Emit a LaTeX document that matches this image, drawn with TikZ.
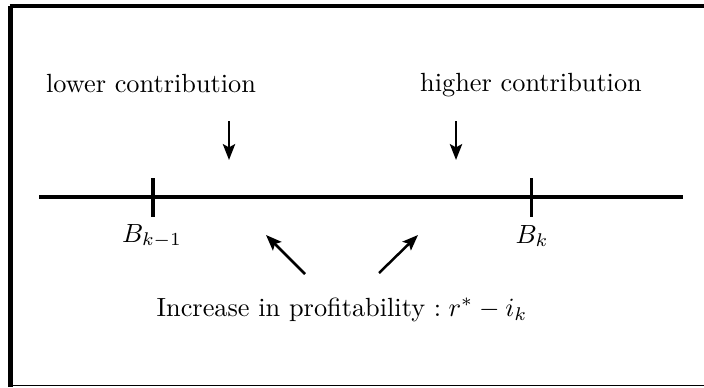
\documentclass[tikz,border=0pt]{standalone}
\usetikzlibrary{arrows.meta}
\begin{document}
\begin{tikzpicture}[x=0.3802pt,y=-0.3802pt,
  lbl/.style={inner sep=0pt,anchor=base},
  axis/.style={line width=1.15pt},
  tick/.style={line width=1.15pt},
  arr/.style={line width=1.1pt,-{Stealth[length=6pt,width=4.6pt,inset=1.2pt]}},
  darr/.style={line width=0.95pt,-{Stealth[length=6pt,width=4.6pt,inset=1.2pt]}}]
\useasboundingbox (0,0) rectangle (704,387);
% frame
\draw[line width=1.9pt] (10.5,387) -- (10.5,6);
\draw[line width=1.5pt] (9.5,6) -- (704,6);
\draw[line width=0.45pt] (10.5,385.8) -- (704,385.8);
% axis
\coordinate (L) at (39,197);
\coordinate (R) at (683,197);
\draw[axis] (L) -- (R);
\coordinate (t1a) at (153,178); \coordinate (t1b) at (153,217);
\coordinate (t2a) at (531,178); \coordinate (t2b) at (531,217);
\draw[tick] (t1a) -- (t1b);
\draw[tick] (t2a) -- (t2b);
\node[lbl] (bk1) at (152,242) {$B_{k-1}$};
\node[lbl] (bk) at (532,243) {$B_k$};
% top labels and arrows
\node[lbl] (low) at (151,92) {lower contribution};
\node[lbl] (high) at (531,91) {higher contribution};
\coordinate (d1a) at (229,121); \coordinate (d1b) at (229,160);
\coordinate (d2a) at (456,121); \coordinate (d2b) at (456,160);
\draw[arr] (d1a) -- (d1b);
\draw[arr] (d2a) -- (d2b);
% bottom label and arrows
\node[lbl] (inc) at (342,316.5) {Increase in profitability $:r^{*}-i_k$};
\coordinate (u1a) at (305,274); \coordinate (u1b) at (266,235);
\coordinate (u2a) at (379,273); \coordinate (u2b) at (418,235);
\draw[darr] (u1a) -- (u1b);
\draw[darr] (u2a) -- (u2b);
\end{tikzpicture}
\end{document}
